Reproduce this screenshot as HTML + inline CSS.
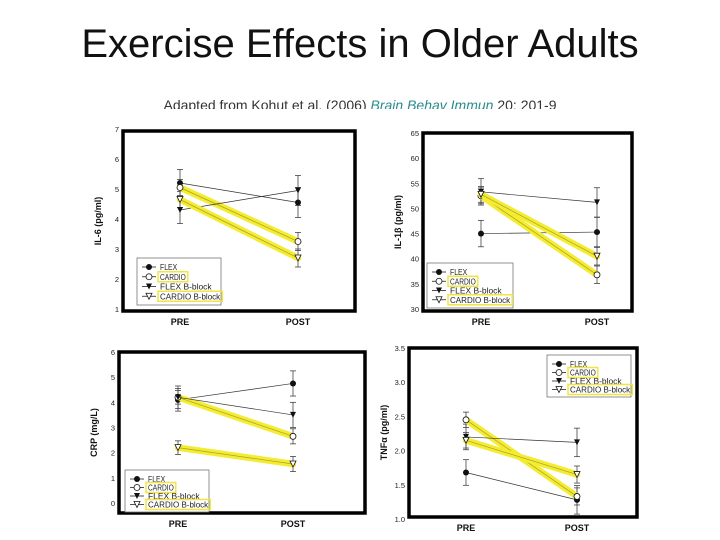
<!DOCTYPE html>
<html><head><meta charset="utf-8"><style>
body{margin:0;background:#fff;}
#wrap{position:relative;width:720px;height:540px;overflow:hidden;font-family:"Liberation Sans",sans-serif;}
#title{position:absolute;left:0;width:720px;top:22px;text-align:center;font-size:40px;color:#111;}
#sub{position:absolute;left:0;width:720px;top:97px;height:12px;overflow:hidden;text-align:center;font-size:14px;color:#333;line-height:17px;}
#sub i{color:#2a8c8c;}
svg{position:absolute;left:0;top:0;}
</style></head><body>
<div id="wrap">
<div id="title">Exercise Effects in Older Adults</div>
<div id="sub">Adapted from Kohut et al. (2006) <i>Brain Behav Immun</i> 20: 201-9</div>
<svg id="chart" width="720" height="540"></svg>
</div>
<script>
const timepoints=["PRE","POST"];
const seriesNames=["FLEX","CARDIO","FLEX B-block","CARDIO B-block"];
// IL-6
const il6Flex=[5.2,4.55], il6Cardio=[5.05,3.25], il6FlexB=[4.3,4.95], il6CardioB=[4.65,2.7];
const il6Ticks=[1,2,3,4,5,6,7];
// IL-1b
const il1Flex=[45,45.3], il1Cardio=[52.5,36.8], il1FlexB=[53.3,51.2], il1CardioB=[52.8,40.5];
const il1Ticks=[30,35,40,45,50,55,60,65];
// CRP
const crpFlex=[4.1,4.75], crpCardio=[4.2,2.65], crpFlexB=[4.2,3.5], crpCardioB=[2.2,1.55];
const crpTicks=[0,1,2,3,4,5,6];
// TNFa
const tnfFlex=[1.68,1.28], tnfCardio=[2.45,1.33], tnfFlexB=[2.2,2.12], tnfCardioB=[2.15,1.65];
const tnfTicks=["1.0","1.5","2.0","2.5","3.0","3.5"];
const errs=[0.45,0.5];

const NS="http://www.w3.org/2000/svg";
const svg=document.getElementById('chart');
function el(tag,attrs,parent,txt){const e=document.createElementNS(NS,tag);for(const k in attrs)e.setAttribute(k,attrs[k]);if(txt!==undefined)e.textContent=txt;(parent||svg).appendChild(e);return e;}

function panel(cfg){
  const g=el('g',{});
  
  
  const ticks=cfg.ticks.map(Number);
  const ymin=ticks[0],ymax=ticks[ticks.length-1];
  const y=v=>cfg.yb-(v-ymin)/(ymax-ymin)*(cfg.yb-cfg.yt);
  const x=i=>[cfg.xpre,cfg.xpost][i];
  const fr=el('rect',{x:cfg.l,y:cfg.t,width:cfg.r-cfg.l,height:cfg.b-cfg.t,fill:'none',stroke:'#000','stroke-width':3.5},g);
  
  
  cfg.ticks.forEach(t=>{
    const tx=el('text',{x:cfg.l-4,y:y(Number(t))+3,'font-size':7.5,'text-anchor':'end',fill:'#222'},g,t);
    
    
  });
  const yl=el('text',{transform:`translate(${cfg.l-22},${(cfg.t+cfg.b)/2}) rotate(-90)`,'font-size':9,'font-weight':'bold','text-anchor':'middle',fill:'#111'},g,cfg.ylabel);
  
  
  timepoints.forEach((tp,i)=>{
    const tx=el('text',{x:x(i),y:cfg.b+14,'font-size':9,'font-weight':'bold','text-anchor':'middle',fill:'#111'},g,tp);
    
    
  });
  const span=(ymax-ymin);
  cfg.series.forEach(s=>{
    [0,1].forEach(i=>{
      const e=errs[i]*span/6*(s.hl?0.6:1);
      const eb=el('line',{x1:x(i),x2:x(i),y1:y(s.v[i]-e),y2:y(s.v[i]+e),stroke:'#444','stroke-width':0.8},g);
      
      
      [s.v[i]-e,s.v[i]+e].forEach(v=>el('line',{x1:x(i)-3,x2:x(i)+3,y1:y(v),y2:y(v),stroke:'#444','stroke-width':0.8},g));
    });
  });
  cfg.series.forEach((s,k)=>{
    if(s.hl){
      const h=el('line',{x1:x(0),y1:y(s.v[0]),x2:x(1),y2:y(s.v[1]),stroke:'#f4ec30','stroke-width':6.5,'stroke-linecap':'round'},g);
      
      
    }
    const ln=el('line',{x1:x(0),y1:y(s.v[0]),x2:x(1),y2:y(s.v[1]),stroke:s.hl?'#a8a030':'#333','stroke-width':0.7},g);
    
    
    [0,1].forEach(i=>marker(g,k,x(i),y(s.v[i])));
  });
  const lg=el('g',{},g);
  
  
  const L=cfg.leg;
  el('rect',{x:L[0],y:L[1],width:L[2],height:L[3],fill:'#fff',stroke:'#777','stroke-width':0.8},lg);
  seriesNames.forEach((n,k)=>{
    const yy=L[1]+7+k*(L[3]-8)/4+2;
    el('line',{x1:L[0]+5,x2:L[0]+19,y1:yy,y2:yy,stroke:'#222','stroke-width':0.8},lg);
    marker(lg,k,L[0]+12,yy);
    if(k%2==1){el('rect',{x:L[0]+21,y:yy-5,width:n.length*4.3+4,height:10,fill:'none',stroke:'#f0e640','stroke-width':1.5},lg);}
    const t=el('text',{x:L[0]+23,y:yy+3,'font-size':8,fill:'#222',textLength:n.length*4.3,lengthAdjust:'spacingAndGlyphs'},lg,n);
    
    
  });
}
function marker(g,k,cx,cy){
  let m;
  if(k==0)m=el('circle',{cx,cy,r:3,fill:'#111'},g);
  else if(k==1)m=el('circle',{cx,cy,r:3,fill:'#fff',stroke:'#111','stroke-width':0.8},g);
  else if(k==2)m=el('path',{d:`M${cx-3},${cy-3}L${cx+3},${cy-3}L${cx},${cy+3}Z`,fill:'#111'},g);
  else m=el('path',{d:`M${cx-3},${cy-3}L${cx+3},${cy-3}L${cx},${cy+3}Z`,fill:'#fff',stroke:'#111','stroke-width':0.8},g);
  
  
}
panel({name:'il6-chart',l:123,t:131,r:355,b:311,yt:129,yb:309,xpre:180,xpost:298,ticks:il6Ticks,ylabel:'IL-6 (pg/ml)',
  series:[{v:il6Flex},{v:il6Cardio,hl:1},{v:il6FlexB},{v:il6CardioB,hl:1}],leg:[137,258,84,47]});
panel({name:'il1b-chart',l:423,t:133,r:632,b:311,yt:133,yb:309,xpre:481,xpost:597,ticks:il1Ticks,ylabel:'IL-1\u03b2 (pg/ml)',
  series:[{v:il1Flex},{v:il1Cardio,hl:1},{v:il1FlexB},{v:il1CardioB,hl:1}],leg:[427,263,86,45]});
panel({name:'crp-chart',l:119,t:352,r:365,b:513,yt:352,yb:503,xpre:178,xpost:293,ticks:crpTicks,ylabel:'CRP (mg/L)',
  series:[{v:crpFlex},{v:crpCardio,hl:1},{v:crpFlexB},{v:crpCardioB,hl:1}],leg:[125,470,84,42]});
panel({name:'tnfa-chart',l:409,t:348,r:637,b:517,yt:348,yb:519,xpre:466,xpost:577,ticks:tnfTicks,ylabel:'TNF\u03b1 (pg/ml)',
  series:[{v:tnfFlex},{v:tnfCardio,hl:1},{v:tnfFlexB},{v:tnfCardioB,hl:1}],leg:[547,355,84,42]});
</script>
</body></html>
